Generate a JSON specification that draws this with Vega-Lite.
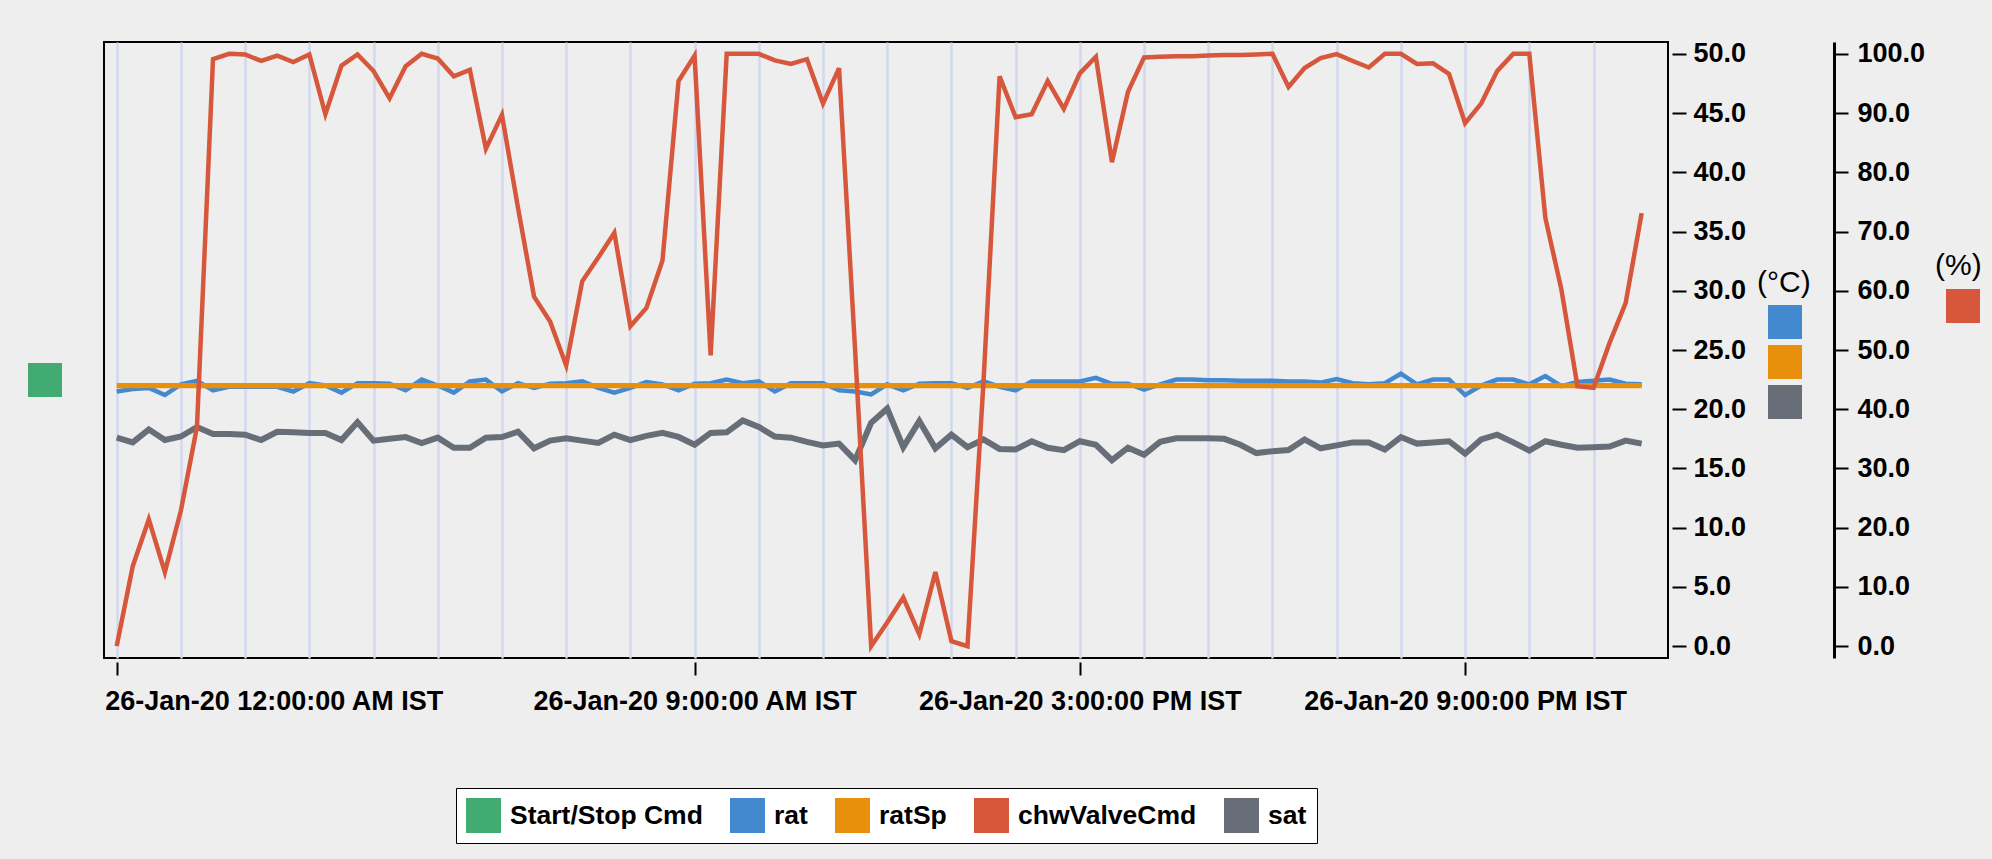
{
  "$schema": "https://vega.github.io/schema/vega-lite/v6.json",
  "autosize": {"type": "none"},
  "padding": {"left": 104, "top": 42, "right": 324, "bottom": 201},
  "width": 1564,
  "height": 616,
  "background": "#eeeeee",
  "data": {"values": [
    {"t":"2020-01-26T00:00:00Z","rat":21.5,"ratSp":22,"chwValveCmd":0,"sat":17.6},
    {"t":"2020-01-26T00:15:00Z","rat":21.7,"ratSp":22,"chwValveCmd":13.5,"sat":17.2},
    {"t":"2020-01-26T00:30:00Z","rat":21.8,"ratSp":22,"chwValveCmd":21.4,"sat":18.3},
    {"t":"2020-01-26T00:45:00Z","rat":21.2,"ratSp":22,"chwValveCmd":12.5,"sat":17.4},
    {"t":"2020-01-26T01:00:00Z","rat":22.1,"ratSp":22,"chwValveCmd":22.9,"sat":17.7},
    {"t":"2020-01-26T01:15:00Z","rat":22.4,"ratSp":22,"chwValveCmd":37.0,"sat":18.5},
    {"t":"2020-01-26T01:30:00Z","rat":21.6,"ratSp":22,"chwValveCmd":99.1,"sat":17.9},
    {"t":"2020-01-26T01:45:00Z","rat":21.9,"ratSp":22,"chwValveCmd":100,"sat":17.9},
    {"t":"2020-01-26T02:00:00Z","rat":21.9,"ratSp":22,"chwValveCmd":99.9,"sat":17.85},
    {"t":"2020-01-26T02:15:00Z","rat":21.9,"ratSp":22,"chwValveCmd":98.8,"sat":17.4},
    {"t":"2020-01-26T02:30:00Z","rat":21.9,"ratSp":22,"chwValveCmd":99.7,"sat":18.1},
    {"t":"2020-01-26T02:45:00Z","rat":21.5,"ratSp":22,"chwValveCmd":98.6,"sat":18.05},
    {"t":"2020-01-26T03:00:00Z","rat":22.2,"ratSp":22,"chwValveCmd":99.9,"sat":18.0},
    {"t":"2020-01-26T03:15:00Z","rat":22.0,"ratSp":22,"chwValveCmd":89.8,"sat":18.0},
    {"t":"2020-01-26T03:30:00Z","rat":21.4,"ratSp":22,"chwValveCmd":98.0,"sat":17.4},
    {"t":"2020-01-26T03:45:00Z","rat":22.2,"ratSp":22,"chwValveCmd":99.9,"sat":18.9},
    {"t":"2020-01-26T04:00:00Z","rat":22.2,"ratSp":22,"chwValveCmd":97.1,"sat":17.35},
    {"t":"2020-01-26T04:15:00Z","rat":22.15,"ratSp":22,"chwValveCmd":92.5,"sat":17.5},
    {"t":"2020-01-26T04:30:00Z","rat":21.6,"ratSp":22,"chwValveCmd":97.9,"sat":17.65},
    {"t":"2020-01-26T04:45:00Z","rat":22.5,"ratSp":22,"chwValveCmd":100,"sat":17.15},
    {"t":"2020-01-26T05:00:00Z","rat":22.0,"ratSp":22,"chwValveCmd":99.2,"sat":17.6},
    {"t":"2020-01-26T05:15:00Z","rat":21.4,"ratSp":22,"chwValveCmd":96.2,"sat":16.75},
    {"t":"2020-01-26T05:30:00Z","rat":22.35,"ratSp":22,"chwValveCmd":97.3,"sat":16.75},
    {"t":"2020-01-26T05:45:00Z","rat":22.5,"ratSp":22,"chwValveCmd":84.0,"sat":17.6},
    {"t":"2020-01-26T06:00:00Z","rat":21.5,"ratSp":22,"chwValveCmd":89.7,"sat":17.65},
    {"t":"2020-01-26T06:15:00Z","rat":22.2,"ratSp":22,"chwValveCmd":74.0,"sat":18.1},
    {"t":"2020-01-26T06:30:00Z","rat":21.8,"ratSp":22,"chwValveCmd":59.0,"sat":16.7},
    {"t":"2020-01-26T06:45:00Z","rat":22.15,"ratSp":22,"chwValveCmd":54.8,"sat":17.35},
    {"t":"2020-01-26T07:00:00Z","rat":22.2,"ratSp":22,"chwValveCmd":47.4,"sat":17.55},
    {"t":"2020-01-26T07:15:00Z","rat":22.35,"ratSp":22,"chwValveCmd":61.6,"sat":17.35},
    {"t":"2020-01-26T07:30:00Z","rat":21.8,"ratSp":22,"chwValveCmd":65.6,"sat":17.15},
    {"t":"2020-01-26T07:45:00Z","rat":21.4,"ratSp":22,"chwValveCmd":69.8,"sat":17.85},
    {"t":"2020-01-26T08:00:00Z","rat":21.8,"ratSp":22,"chwValveCmd":54.0,"sat":17.4},
    {"t":"2020-01-26T08:15:00Z","rat":22.3,"ratSp":22,"chwValveCmd":57.1,"sat":17.75},
    {"t":"2020-01-26T08:30:00Z","rat":22.1,"ratSp":22,"chwValveCmd":65.1,"sat":18.0},
    {"t":"2020-01-26T08:45:00Z","rat":21.6,"ratSp":22,"chwValveCmd":95.4,"sat":17.66},
    {"t":"2020-01-26T09:00:00Z","rat":22.15,"ratSp":22,"chwValveCmd":99.7,"sat":17.0},
    {"t":"2020-01-26T09:15:00Z","rat":22.2,"ratSp":22,"chwValveCmd":49.1,"sat":18.0},
    {"t":"2020-01-26T09:30:00Z","rat":22.5,"ratSp":22,"chwValveCmd":100,"sat":18.05},
    {"t":"2020-01-26T09:45:00Z","rat":22.2,"ratSp":22,"chwValveCmd":100,"sat":19.05},
    {"t":"2020-01-26T10:00:00Z","rat":22.35,"ratSp":22,"chwValveCmd":100,"sat":18.5},
    {"t":"2020-01-26T10:15:00Z","rat":21.5,"ratSp":22,"chwValveCmd":98.9,"sat":17.7},
    {"t":"2020-01-26T10:30:00Z","rat":22.2,"ratSp":22,"chwValveCmd":98.3,"sat":17.6},
    {"t":"2020-01-26T10:45:00Z","rat":22.2,"ratSp":22,"chwValveCmd":99.1,"sat":17.25},
    {"t":"2020-01-26T11:00:00Z","rat":22.2,"ratSp":22,"chwValveCmd":91.6,"sat":16.95},
    {"t":"2020-01-26T11:15:00Z","rat":21.6,"ratSp":22,"chwValveCmd":97.6,"sat":17.1},
    {"t":"2020-01-26T11:30:00Z","rat":21.5,"ratSp":22,"chwValveCmd":50.0,"sat":15.7},
    {"t":"2020-01-26T11:45:00Z","rat":21.25,"ratSp":22,"chwValveCmd":0,"sat":18.85},
    {"t":"2020-01-26T12:00:00Z","rat":22.1,"ratSp":22,"chwValveCmd":4.0,"sat":20.05},
    {"t":"2020-01-26T12:15:00Z","rat":21.6,"ratSp":22,"chwValveCmd":8.2,"sat":16.8},
    {"t":"2020-01-26T12:30:00Z","rat":22.15,"ratSp":22,"chwValveCmd":2.0,"sat":19.0},
    {"t":"2020-01-26T12:45:00Z","rat":22.2,"ratSp":22,"chwValveCmd":12.5,"sat":16.7},
    {"t":"2020-01-26T13:00:00Z","rat":22.2,"ratSp":22,"chwValveCmd":0.85,"sat":17.85},
    {"t":"2020-01-26T13:15:00Z","rat":21.8,"ratSp":22,"chwValveCmd":0,"sat":16.8},
    {"t":"2020-01-26T13:30:00Z","rat":22.35,"ratSp":22,"chwValveCmd":44.7,"sat":17.45},
    {"t":"2020-01-26T13:45:00Z","rat":21.9,"ratSp":22,"chwValveCmd":96.2,"sat":16.65},
    {"t":"2020-01-26T14:00:00Z","rat":21.6,"ratSp":22,"chwValveCmd":89.3,"sat":16.6},
    {"t":"2020-01-26T14:15:00Z","rat":22.35,"ratSp":22,"chwValveCmd":89.8,"sat":17.3},
    {"t":"2020-01-26T14:30:00Z","rat":22.35,"ratSp":22,"chwValveCmd":95.4,"sat":16.75},
    {"t":"2020-01-26T14:45:00Z","rat":22.35,"ratSp":22,"chwValveCmd":90.7,"sat":16.55},
    {"t":"2020-01-26T15:00:00Z","rat":22.35,"ratSp":22,"chwValveCmd":96.7,"sat":17.3},
    {"t":"2020-01-26T15:15:00Z","rat":22.65,"ratSp":22,"chwValveCmd":99.5,"sat":17.0},
    {"t":"2020-01-26T15:30:00Z","rat":22.15,"ratSp":22,"chwValveCmd":81.7,"sat":15.7},
    {"t":"2020-01-26T15:45:00Z","rat":22.15,"ratSp":22,"chwValveCmd":93.6,"sat":16.75},
    {"t":"2020-01-26T16:00:00Z","rat":21.65,"ratSp":22,"chwValveCmd":99.4,"sat":16.15},
    {"t":"2020-01-26T16:15:00Z","rat":22.1,"ratSp":22,"chwValveCmd":99.5,"sat":17.25},
    {"t":"2020-01-26T16:30:00Z","rat":22.5,"ratSp":22,"chwValveCmd":99.6,"sat":17.55},
    {"t":"2020-01-26T16:45:00Z","rat":22.5,"ratSp":22,"chwValveCmd":99.6,"sat":17.55},
    {"t":"2020-01-26T17:00:00Z","rat":22.45,"ratSp":22,"chwValveCmd":99.7,"sat":17.55},
    {"t":"2020-01-26T17:15:00Z","rat":22.45,"ratSp":22,"chwValveCmd":99.8,"sat":17.5},
    {"t":"2020-01-26T17:30:00Z","rat":22.4,"ratSp":22,"chwValveCmd":99.8,"sat":17.0},
    {"t":"2020-01-26T17:45:00Z","rat":22.4,"ratSp":22,"chwValveCmd":99.9,"sat":16.3},
    {"t":"2020-01-26T18:00:00Z","rat":22.4,"ratSp":22,"chwValveCmd":100,"sat":16.45},
    {"t":"2020-01-26T18:15:00Z","rat":22.35,"ratSp":22,"chwValveCmd":94.4,"sat":16.55},
    {"t":"2020-01-26T18:30:00Z","rat":22.35,"ratSp":22,"chwValveCmd":97.6,"sat":17.45},
    {"t":"2020-01-26T18:45:00Z","rat":22.25,"ratSp":22,"chwValveCmd":99.3,"sat":16.7},
    {"t":"2020-01-26T19:00:00Z","rat":22.55,"ratSp":22,"chwValveCmd":99.95,"sat":16.95},
    {"t":"2020-01-26T19:15:00Z","rat":22.2,"ratSp":22,"chwValveCmd":98.8,"sat":17.2},
    {"t":"2020-01-26T19:30:00Z","rat":22.1,"ratSp":22,"chwValveCmd":97.7,"sat":17.2},
    {"t":"2020-01-26T19:45:00Z","rat":22.2,"ratSp":22,"chwValveCmd":100,"sat":16.6},
    {"t":"2020-01-26T20:00:00Z","rat":23.0,"ratSp":22,"chwValveCmd":100,"sat":17.65},
    {"t":"2020-01-26T20:15:00Z","rat":22.1,"ratSp":22,"chwValveCmd":98.3,"sat":17.1},
    {"t":"2020-01-26T20:30:00Z","rat":22.5,"ratSp":22,"chwValveCmd":98.4,"sat":17.2},
    {"t":"2020-01-26T20:45:00Z","rat":22.5,"ratSp":22,"chwValveCmd":96.6,"sat":17.3},
    {"t":"2020-01-26T21:00:00Z","rat":21.2,"ratSp":22,"chwValveCmd":88.3,"sat":16.25},
    {"t":"2020-01-26T21:15:00Z","rat":22.0,"ratSp":22,"chwValveCmd":91.6,"sat":17.45},
    {"t":"2020-01-26T21:30:00Z","rat":22.5,"ratSp":22,"chwValveCmd":97.1,"sat":17.85},
    {"t":"2020-01-26T21:45:00Z","rat":22.5,"ratSp":22,"chwValveCmd":100,"sat":17.2},
    {"t":"2020-01-26T22:00:00Z","rat":22.1,"ratSp":22,"chwValveCmd":100,"sat":16.5},
    {"t":"2020-01-26T22:15:00Z","rat":22.8,"ratSp":22,"chwValveCmd":72.3,"sat":17.3},
    {"t":"2020-01-26T22:30:00Z","rat":21.95,"ratSp":22,"chwValveCmd":60.2,"sat":17.0},
    {"t":"2020-01-26T22:45:00Z","rat":22.3,"ratSp":22,"chwValveCmd":43.9,"sat":16.75},
    {"t":"2020-01-26T23:00:00Z","rat":22.4,"ratSp":22,"chwValveCmd":43.6,"sat":16.8},
    {"t":"2020-01-26T23:15:00Z","rat":22.5,"ratSp":22,"chwValveCmd":51.2,"sat":16.85},
    {"t":"2020-01-26T23:30:00Z","rat":22.15,"ratSp":22,"chwValveCmd":57.9,"sat":17.35},
    {"t":"2020-01-26T23:45:00Z","rat":22.1,"ratSp":22,"chwValveCmd":73.1,"sat":17.1}
  ]},
  "layer": [
    {
      "transform": [{"fold": ["rat", "ratSp", "sat"], "as": ["series", "v"]}],
      "mark": {"type": "line", "strokeJoin": "miter", "strokeCap": "butt"},
      "encoding": {
        "x": {
          "field": "t", "type": "temporal",
          "scale": {"type": "utc", "domain": [
            {"year": 2020, "month": 1, "date": 25, "hours": 23, "minutes": 48, "seconds": 8, "utc": true},
            {"year": 2020, "month": 1, "date": 27, "hours": 0, "minutes": 9, "seconds": 36, "utc": true}
          ]},
          "axis": {
            "orient": "bottom",
            "title": null,
            "values": [
              {"year": 2020, "month": 1, "date": 26, "hours": 0, "utc": true},
              {"year": 2020, "month": 1, "date": 26, "hours": 1, "utc": true},
              {"year": 2020, "month": 1, "date": 26, "hours": 2, "utc": true},
              {"year": 2020, "month": 1, "date": 26, "hours": 3, "utc": true},
              {"year": 2020, "month": 1, "date": 26, "hours": 4, "utc": true},
              {"year": 2020, "month": 1, "date": 26, "hours": 5, "utc": true},
              {"year": 2020, "month": 1, "date": 26, "hours": 6, "utc": true},
              {"year": 2020, "month": 1, "date": 26, "hours": 7, "utc": true},
              {"year": 2020, "month": 1, "date": 26, "hours": 8, "utc": true},
              {"year": 2020, "month": 1, "date": 26, "hours": 9, "utc": true},
              {"year": 2020, "month": 1, "date": 26, "hours": 10, "utc": true},
              {"year": 2020, "month": 1, "date": 26, "hours": 11, "utc": true},
              {"year": 2020, "month": 1, "date": 26, "hours": 12, "utc": true},
              {"year": 2020, "month": 1, "date": 26, "hours": 13, "utc": true},
              {"year": 2020, "month": 1, "date": 26, "hours": 14, "utc": true},
              {"year": 2020, "month": 1, "date": 26, "hours": 15, "utc": true},
              {"year": 2020, "month": 1, "date": 26, "hours": 16, "utc": true},
              {"year": 2020, "month": 1, "date": 26, "hours": 17, "utc": true},
              {"year": 2020, "month": 1, "date": 26, "hours": 18, "utc": true},
              {"year": 2020, "month": 1, "date": 26, "hours": 19, "utc": true},
              {"year": 2020, "month": 1, "date": 26, "hours": 20, "utc": true},
              {"year": 2020, "month": 1, "date": 26, "hours": 21, "utc": true},
              {"year": 2020, "month": 1, "date": 26, "hours": 22, "utc": true},
              {"year": 2020, "month": 1, "date": 26, "hours": 23, "utc": true}
            ],
            "grid": true, "gridColor": "#d2d8ef", "gridWidth": 2.5,
            "domain": false,
            "offset": 4,
            "tickSize": 13, "tickWidth": 2, "tickColor": "black",
            "tickOpacity": {"condition": {"test": "indexof([0,9,15,21], utchours(datum.value)) >= 0", "value": 1}, "value": 0},
            "labelExpr": "indexof([0,9,15,21], utchours(datum.value)) >= 0 ? utcFormat(datum.value, '%d-%b-%y %-I:%M:%S %p') + ' IST' : ''",
            "labelPadding": 13,
            "labelLimit": 600,
            "labelFlush": 15,
            "labelFlushOffset": 12,
            "labelOverlap": false
          }
        },
        "y": {
          "field": "v", "type": "quantitative",
          "scale": {"domain": [-1, 51], "nice": false, "zero": false},
          "axis": {
            "orient": "right", "title": null,
            "values": [0, 5, 10, 15, 20, 25, 30, 35, 40, 45, 50],
            "format": ".1f", "domain": false, "grid": false,
            "offset": 4, "tickSize": 14, "tickWidth": 2, "tickColor": "black",
            "labelPadding": 7
          }
        },
        "color": {
          "field": "series", "type": "nominal",
          "scale": {"domain": ["rat", "ratSp", "sat"], "range": ["#4289d0", "#e88f0b", "#686e78"]},
          "legend": null
        },
        "strokeWidth": {
          "field": "series", "type": "nominal",
          "scale": {"domain": ["rat", "ratSp", "sat"], "range": [4.5, 6, 4.5]},
          "legend": null
        }
      }
    },
    {
      "mark": {"type": "line", "color": "#d6573c", "strokeWidth": 4.5, "strokeJoin": "miter", "strokeCap": "butt"},
      "encoding": {
        "x": {
          "field": "t", "type": "temporal",
          "scale": {"type": "utc", "domain": [
            {"year": 2020, "month": 1, "date": 25, "hours": 23, "minutes": 48, "seconds": 8, "utc": true},
            {"year": 2020, "month": 1, "date": 27, "hours": 0, "minutes": 9, "seconds": 36, "utc": true}
          ]}
        },
        "y": {
          "field": "chwValveCmd", "type": "quantitative",
          "scale": {"domain": [-2, 102], "nice": false, "zero": false},
          "axis": {
            "orient": "right", "title": null,
            "values": [0, 10, 20, 30, 40, 50, 60, 70, 80, 90, 100],
            "format": ".1f", "grid": false,
            "domain": true, "domainColor": "black", "domainWidth": 3,
            "offset": 166, "tickSize": 14, "tickWidth": 2, "tickColor": "black",
            "labelPadding": 9
          }
        }
      }
    },
    {
      "transform": [{"filter": "false"}],
      "mark": {"type": "square", "filled": true, "opacity": 1},
      "encoding": {
        "color": {
          "field": "series", "type": "nominal",
          "scale": {"domain": ["rat", "ratSp", "sat"], "range": ["#4289d0", "#e88f0b", "#686e78"]},
          "legend": {"orient": "none", "legendX": 1653, "legendY": 226, "direction": "vertical",
            "title": "(°C)", "titlePadding": 7, "symbolSize": 1156, "symbolOffset": 11,
            "rowPadding": 6, "labelExpr": "''"}
        }
      }
    },
    {
      "transform": [{"filter": "false"}],
      "mark": {"type": "square", "filled": true, "opacity": 1},
      "encoding": {
        "color": {
          "field": "series", "type": "nominal",
          "scale": {"domain": ["chwValveCmd"], "range": ["#d6573c"]},
          "legend": {"orient": "none", "legendX": 1831, "legendY": 209, "direction": "vertical",
            "title": "(%)", "titlePadding": 8, "symbolSize": 1156, "symbolOffset": 11,
            "labelExpr": "''"}
        }
      }
    },
    {
      "transform": [{"filter": "false"}],
      "mark": {"type": "square", "filled": true, "opacity": 1},
      "encoding": {
        "color": {
          "field": "series", "type": "nominal",
          "scale": {"domain": ["Start/Stop Cmd"], "range": ["#41ab71"]},
          "legend": {"orient": "none", "legendX": -76, "legendY": 321, "title": null,
            "symbolSize": 1156, "labelExpr": "''"}
        }
      }
    },
    {
      "transform": [{"filter": "false"}],
      "mark": {"type": "square", "filled": true, "opacity": 1},
      "encoding": {
        "color": {
          "field": "series", "type": "nominal",
          "scale": {"domain": ["Start/Stop Cmd", "rat", "ratSp", "chwValveCmd", "sat"],
                    "range": ["#41ab71", "#4289d0", "#e88f0b", "#d6573c", "#686e78"]},
          "legend": {"orient": "none", "legendX": 352, "legendY": 746, "direction": "horizontal",
            "title": null, "fillColor": "white", "strokeColor": "black", "padding": 10,
            "symbolSize": 1225, "labelOffset": 9, "columnPadding": 27, "labelLimit": 500,
            "labelFontSize": 26.5,
            "encode": {"legend": {"update": {"strokeWidth": {"value": 2.5}}}}}
        }
      }
    }
  ],
  "resolve": {
    "scale": {"y": "independent", "color": "independent"},
    "axis": {"y": "independent"},
    "legend": {"color": "independent"}
  },
  "config": {
    "view": {"fill": "white", "stroke": "black", "strokeWidth": 2},
    "axis": {"labelFont": "Liberation Sans", "labelFontWeight": "bold", "labelFontSize": 27, "labelColor": "black"},
    "legend": {"labelFont": "Liberation Sans", "labelFontWeight": "bold", "labelFontSize": 26, "labelColor": "black",
      "titleFont": "Liberation Sans", "titleFontWeight": "normal", "titleFontSize": 30, "titleColor": "black",
      "symbolType": "square", "symbolStrokeWidth": 0, "padding": 0}
  }
}
